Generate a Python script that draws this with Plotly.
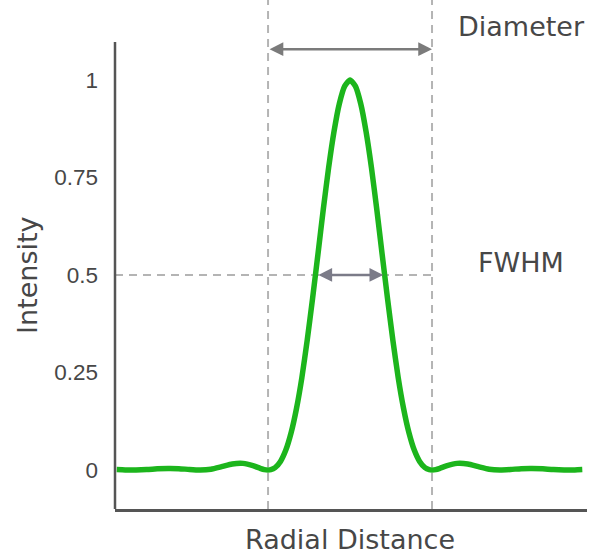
import plotly.graph_objects as go

# Radial distance (arbitrary units) and normalized intensity
radial = [-10.9, -10.5, -10.0, -9.5, -9.0, -8.5, -8.0, -7.5, -7.0, -6.5, -6.0, -5.5, -5.0,
          -4.5, -4.2, -4.0, -3.83, -3.7, -3.5, -3.25, -3.0, -2.75, -2.5, -2.25, -2.0, -1.75,
          -1.5, -1.25, -1.0, -0.75, -0.5, -0.25, 0.0,
          0.25, 0.5, 0.75, 1.0, 1.25, 1.5, 1.75, 2.0, 2.25, 2.5, 2.75, 3.0, 3.25, 3.5, 3.7,
          3.83, 4.0, 4.2, 4.5, 5.0, 5.5, 6.0,
          6.5, 7.0, 7.5, 8.0, 8.5, 9.0, 9.5, 10.0, 10.5, 10.85]
intensity = [0.001, 0.0002, 0.0001, 0.001, 0.003, 0.004, 0.0035, 0.0013, 0.0, 0.002, 0.0085,
             0.0155, 0.017, 0.0105, 0.0044, 0.001, 0.0, 0.0009, 0.006, 0.022, 0.051, 0.096,
             0.158, 0.237, 0.333, 0.44, 0.553, 0.668, 0.775, 0.867, 0.939, 0.984, 1.0,
             0.984, 0.939, 0.867, 0.775, 0.668, 0.553, 0.44, 0.333, 0.237, 0.158, 0.096,
             0.051, 0.022, 0.006, 0.0009,
             0.0, 0.001, 0.0044, 0.0105, 0.017, 0.0155, 0.0085, 0.002, 0.0, 0.0013,
             0.0035, 0.004, 0.003, 0.001, 0.0001, 0.0002, 0.001]

first_zero = 3.83        # first dark ring (diameter markers)
half_width = 1.55        # FWHM arrow half-length
half_max = 0.5

y_ticks = [0, 0.25, 0.5, 0.75, 1]
y_tick_labels = ["0", "0.25", "0.5", "0.75", "1"]

X_RANGE = [-10.98, 11.07]
Y_RANGE = [-0.1, 1.205]

TICK_FONT = "Liberation Sans, Arial, sans-serif"
TITLE_FONT = "DejaVu Sans, sans-serif"
TXT = "#474747"
DASH_C = "#b4b4b4"

fig = go.Figure()
fig.add_trace(go.Scatter(
    x=radial, y=intensity, mode="lines",
    line=dict(color="#1cb51c", width=5.5, shape="spline", smoothing=0.6),
    hoverinfo="skip", showlegend=False))

shapes = [
    dict(type="line", xref="x", yref="paper", x0=-first_zero, x1=-first_zero, y0=0, y1=1,
         line=dict(color=DASH_C, width=2, dash="8px,6px"), layer="below"),
    dict(type="line", xref="x", yref="paper", x0=first_zero, x1=first_zero, y0=0, y1=1,
         line=dict(color=DASH_C, width=2, dash="8px,6px"), layer="below"),
    dict(type="line", xref="x", yref="y", x0=X_RANGE[0], x1=first_zero, y0=half_max, y1=half_max,
         line=dict(color=DASH_C, width=2, dash="8px,6px"), layer="below"),
    dict(type="line", xref="paper", yref="y", x0=0, x1=0, y0=Y_RANGE[0], y1=1.097,
         line=dict(color="#555555", width=2.5)),
]

annotations = [
    dict(x=first_zero, y=1.079, ax=-first_zero, ay=1.079, xref="x", yref="y", axref="x", ayref="y",
         text="", showarrow=True, arrowhead=2, arrowside="end+start", arrowsize=1.1,
         arrowwidth=2.5, arrowcolor="#7b7b7b", standoff=0, startstandoff=0),
    dict(x=half_width, y=half_max, ax=-half_width, ay=half_max, xref="x", yref="y", axref="x", ayref="y",
         text="", showarrow=True, arrowhead=2, arrowside="end+start", arrowsize=1.1,
         arrowwidth=2.5, arrowcolor="#7b7b88", standoff=0, startstandoff=0),
    dict(x=8.0, y=1.136, xref="x", yref="y", text="Diameter", showarrow=False,
         font=dict(family=TITLE_FONT, size=27, color=TXT), xanchor="center", yanchor="middle"),
    dict(x=8.0, y=0.533, xref="x", yref="y", text="FWHM", showarrow=False,
         font=dict(family=TITLE_FONT, size=27, color=TXT), xanchor="center", yanchor="middle"),
    dict(x=0, y=0.5, xref="paper", yref="y", text="Intensity", showarrow=False, textangle=-90,
         xshift=-87, font=dict(family=TITLE_FONT, size=27, color=TXT), xanchor="center", yanchor="middle"),
    dict(x=0, y=0, xref="x", yref="paper", text="Radial Distance", showarrow=False,
         yshift=-30, font=dict(family=TITLE_FONT, size=27, color=TXT), xanchor="center", yanchor="middle"),
]

fig.update_layout(
    width=596, height=556,
    margin=dict(l=115, r=9, t=0, b=47),
    paper_bgcolor="white", plot_bgcolor="white",
    shapes=shapes, annotations=annotations,
    xaxis=dict(range=X_RANGE, showgrid=False, zeroline=False, showticklabels=False,
               showline=True, linecolor="#555555", linewidth=2.5, ticks=""),
    yaxis=dict(range=Y_RANGE, showgrid=False, zeroline=False, showline=False,
               tickvals=y_ticks, ticktext=y_tick_labels, ticks="",
               ticklabelstandoff=16,
               tickfont=dict(family=TICK_FONT, size=22.5, color=TXT)),
)

fig.write_html("out.html",
               config={"displayModeBar": False, "staticPlot": True},
               post_script="document.body.style.margin='0';document.body.style.overflow='hidden';")
